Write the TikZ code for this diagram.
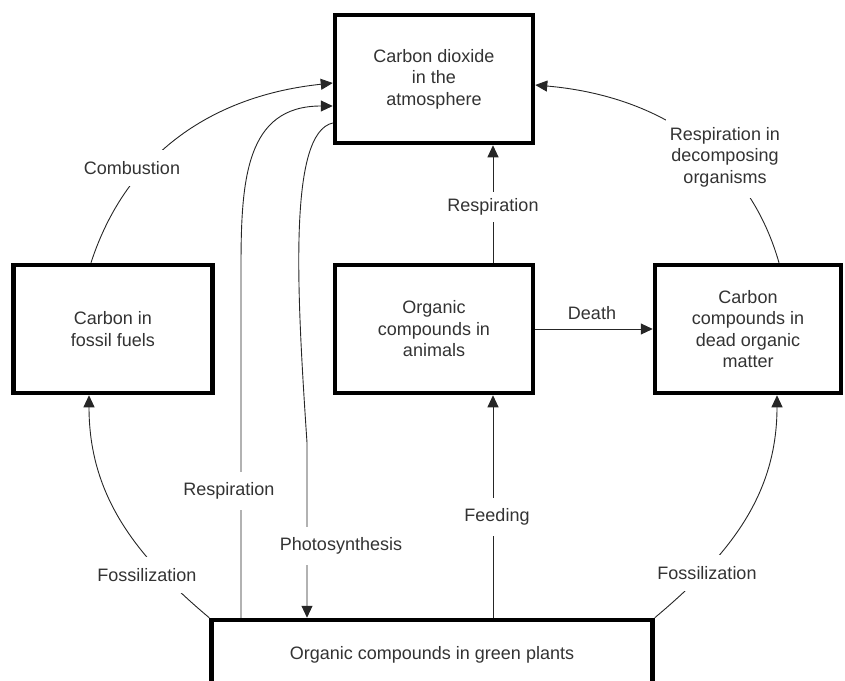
\documentclass[tikz,border=0pt]{standalone}
\usepackage{fontspec}
\setmainfont{Liberation Sans}
\usetikzlibrary{arrows.meta, positioning, calc}
\definecolor{cytext}{HTML}{333333}

\begin{document}
\begin{tikzpicture}[x=1pt, y=1pt,
  cyclebox/.style={rectangle, draw=black, line width=4.5pt, fill=white, minimum height=128pt, inner sep=0pt, align=center, font=\fontsize{18}{21.5}\selectfont, text=cytext},
  lbl/.style={fill=white, inner xsep=4pt, inner ysep=11pt, align=center, font=\fontsize{18}{21.5}\selectfont, text=cytext},
  arr/.style={-{Triangle[length=12pt, width=11pt]}, line width=0.9pt, black!85},
]
  \clip (0,0) rectangle (845,-680);

  % Boxes
  \node[cyclebox, minimum width=198pt] (co2) at (434,-79) {Carbon dioxide\\in the\\atmosphere};
  \node[cyclebox, minimum width=199pt] (fossil) at (113,-329) {Carbon in\\fossil fuels};
  \node[cyclebox, minimum width=198pt] (animals) at (434,-329) {Organic\\compounds in\\animals};
  \node[cyclebox, minimum width=186pt] (dead) at (748,-329) {Carbon\\compounds in\\dead organic\\matter};
  \node[cyclebox, minimum width=441pt, minimum height=70pt] (plants) at (432,-655) {Organic compounds in green plants};

  % Connectors
  \draw[arr] ([xshift=-22pt]fossil.north) to[out=72, in=186] ([yshift=-4pt]co2.west);
  \draw[arr] ([xshift=-191pt]plants.north) -- ++(0,350) to[out=90, in=180, looseness=1.2] ([yshift=-27pt]co2.west);
  \draw[arr] ([yshift=-44pt]co2.west) .. controls +(-45,-10) and +(-10,150) .. ([xshift=-125pt, yshift=175pt]plants.north) -- ([xshift=-125pt]plants.north);
  \draw[arr] ([xshift=61pt]plants.north) -- ([xshift=59pt]animals.south);
  \draw[arr] ([xshift=59pt]animals.north) -- ([xshift=59pt]co2.south);
  \draw[arr] (animals.east) -- (dead.west);
  \draw[arr] (plants.north west) to[out=140, in=-90] ([xshift=-24pt]fossil.south);
  \draw[arr] (plants.north east) to[out=40, in=-90] ([xshift=29pt]dead.south);
  \draw[arr] ([xshift=31pt]dead.north) to[out=106, in=-5] ([yshift=-6pt]co2.east);

  % Labels
  \node[lbl] (lcomb) at (132,-168) {Combustion};
  \node[lbl] (lrespplants) at (229,-491) {Respiration};
  \node[lbl] (lphoto) at (341,-546) {Photosynthesis};
  \node[lbl] (lfeed) at (497,-517) {Feeding};
  \node[lbl, inner ysep=7pt] (lrespanim) at (493,-207) {Respiration};
  \node[lbl, fill=none, inner ysep=2pt] (ldeath) at (592,-313) {Death};
  \node[lbl] (lfossleft) at (147,-575) {Fossilization};
  \node[lbl] (lfossright) at (707,-573) {Fossilization};
  \node[lbl] (ldecomp) at (725,-157) {Respiration in\\decomposing\\organisms};
\end{tikzpicture}
\end{document}
